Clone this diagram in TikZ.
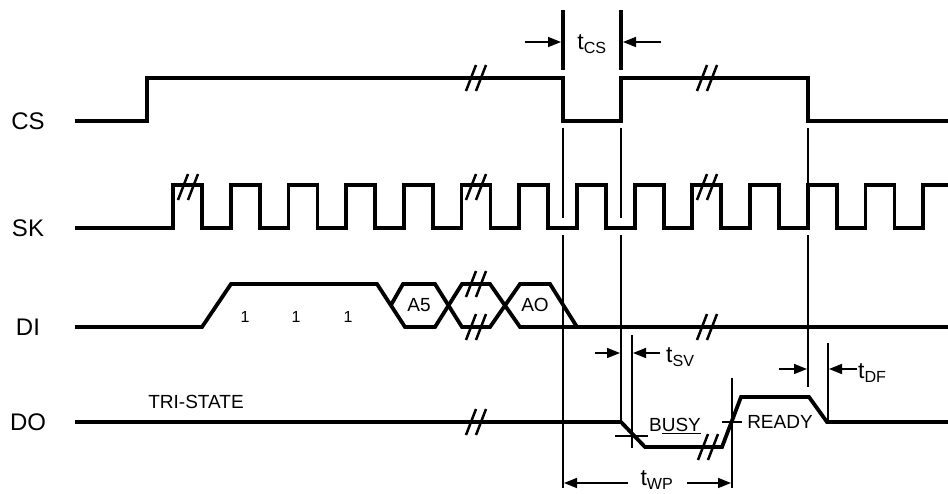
\documentclass[tikz,border=0pt]{standalone}
\usepackage{fontspec}
\setmainfont{Liberation Sans}
\usetikzlibrary{arrows.meta}

\tikzset{
	sig/.style={line width=3.8pt, line join=miter},
	guide/.style={line width=1.1pt},
	marker/.style={line width=3.5pt},
	dimarrow/.style={line width=1.6pt, -{Triangle[length=13pt,width=10pt]}},
	lbl/.style={inner sep=0pt, font=\fontsize{24}{24}\selectfont},
	txt/.style={inner sep=0pt, font=\fontsize{19}{19}\selectfont},
	dig/.style={inner sep=0pt, font=\fontsize{16}{16}\selectfont},
	tlbl/.style={inner sep=0pt, font=\fontsize{23}{23}\selectfont}
}

\newcommand{\brkmark}[2]{%
	\draw[line width=2.5pt] (#1-10,#2+13) -- (#1,#2-13);
	\draw[line width=2.5pt] (#1,#2+13) -- (#1+10,#2-13);
}

\begin{document}
\begin{tikzpicture}[x=1pt,y=-1pt]
	\useasboundingbox (0,0) rectangle (948,493);

	\node[lbl] (cs) at (28,121) {CS};
	\node[lbl] (sk) at (28,228) {SK};
	\node[lbl] (di) at (28,327) {DI};
	\node[lbl] (do) at (28,422) {DO};

	% waveforms
	\draw[sig] (75,121) -- (147,121) -- (147,78) -- (563,78) -- (563,121) -- (621,121) -- (621,78) -- (808,78) -- (808,121) -- (948,121);
	\draw[sig] (75,228) \foreach \k in {0,...,12} {-- ({173+57.7*\k},228) -- ({173+57.7*\k},185) -- ({202+57.7*\k},185) -- ({202+57.7*\k},228)} -- (923,228) -- (923,185) -- (948,185);
	\draw[sig] (75,327) -- (202,327) -- (231,284) -- (377,284) -- (405,327) -- (435,327) -- (462,284) -- (490,284) -- (520,327) -- (948,327);
	\draw[sig] (391,305) -- (403,284) -- (435,284) -- (462,327) -- (490,327) -- (520,284) -- (550,284) -- (577,327);
	\draw[sig] (75,422) -- (621,422) -- (645,447) -- (722,447) -- (741,397) -- (809,397) -- (827,422) -- (948,422);

	\foreach \bx/\by in {476/78, 707/78, 188/187, 476/187, 707/187, 476/284, 476/327, 707/327, 476/422, 708/447}
		{\brkmark{\bx}{\by}}

	% guide lines
	\draw[guide] (563,128) -- (563,218) (563,235) -- (563,488);
	\draw[guide] (621,128) -- (621,218) (621,235) -- (621,422);
	\draw[guide] (808,128) -- (808,185) (808,235) -- (808,387);
	\draw[guide] (632,335) -- (632,448) (615,436) -- (648,436);
	\draw[guide] (732,378) -- (732,488) (722,422) -- (742,422);
	\draw[marker] (563,10) -- (563,70) (621,10) -- (621,70);
	\draw[line width=2.5pt] (828,343) -- (828,422);

	% timing arrows
	\coordinate (csA) at (525,42);
	\coordinate (csB) at (561,42);
	\coordinate (csC) at (661,42);
	\coordinate (csD) at (623,42);
	\coordinate (svA) at (595,353);
	\coordinate (svB) at (620,353);
	\coordinate (svC) at (660,353);
	\coordinate (svD) at (633,353);
	\coordinate (wpA) at (628,483);
	\coordinate (wpB) at (564,483);
	\coordinate (wpC) at (687,483);
	\coordinate (wpD) at (731,483);
	\coordinate (dfA) at (779,369);
	\coordinate (dfB) at (807,369);
	\coordinate (dfC) at (857,369);
	\coordinate (dfD) at (829,369);

	\path[dimarrow]
	(csA) edge (csB)
	(csC) edge (csD)
	(svA) edge (svB)
	(svC) edge (svD)
	(wpA) edge (wpB)
	(wpC) edge (wpD)
	(dfA) edge (dfB)
	(dfC) edge (dfD);

	\node[tlbl] (tcs) at (592,44) {t\textsubscript{CS}};
	\node[tlbl, anchor=west] (tsv) at (666,357) {t\textsubscript{SV}};
	\node[tlbl] (twp) at (657,480) {t\textsubscript{WP}};
	\node[tlbl, anchor=west] (tdf) at (858,373) {t\textsubscript{DF}};

	% data and state labels
	\node[dig] (bitA) at (245,317) {1};
	\node[dig] (bitB) at (296,317) {1};
	\node[dig] (bitC) at (348,317) {1};
	\node[txt] (adrA) at (419,305) {A5};
	\node[txt] (adrB) at (535,305) {AO};
	\node[txt] (tri) at (196,402) {TRI-STATE};
	\node[txt] (busy) at (675,426) {B\underline{USY}};
	\node[txt] (ready) at (780,422) {READY};
\end{tikzpicture}
\end{document}
